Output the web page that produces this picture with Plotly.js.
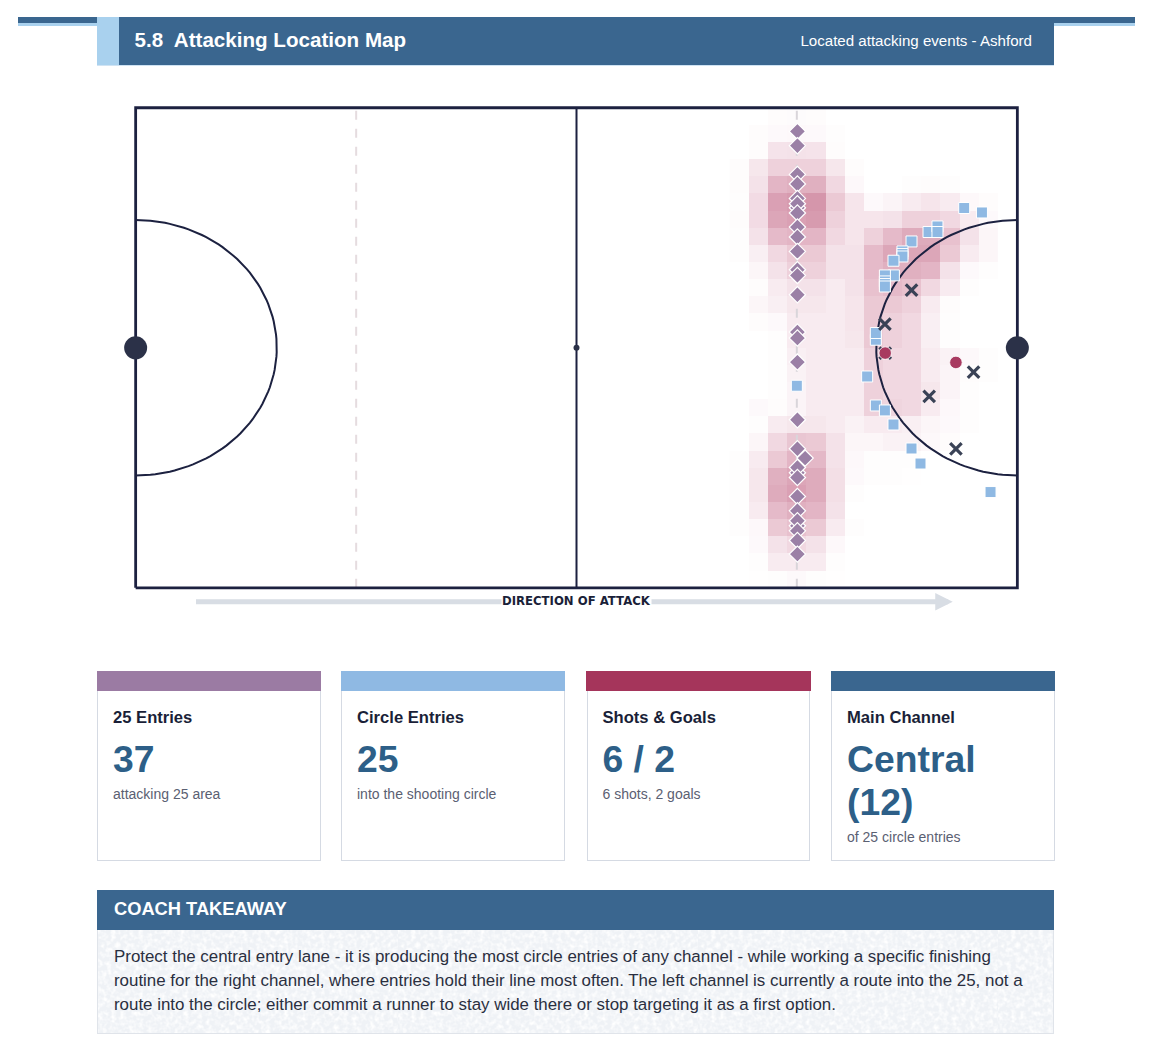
<!DOCTYPE html>
<html>
<head>
<meta charset="utf-8">
<script src="https://cdn.plot.ly/plotly-3.0.1.min.js"></script>
<style>
    html, body { margin: 0; padding: 0; background: #fff; }
    body { width: 1152px; height: 1052px; position: relative; overflow: hidden; font-family: "Liberation Sans", Arial, sans-serif; }
    .abs { position: absolute; }
    #pitch { position: absolute; left: 0; top: 66px; width: 1152px; height: 560px; }
    .head-title { position: absolute; left: 134.5px; top: 17px; height: 48px; line-height: 45px; color: #fff; font-size: 20.6px; font-weight: bold; white-space: pre; }
    .head-sub { position: absolute; right: 120px; top: 17px; height: 48px; line-height: 48px; color: #fff; font-size: 15.1px; }
    .card { position: absolute; top: 671px; width: 223.5px; height: 190px; box-sizing: border-box; border: 1.5px solid #d5dae3; border-top: none; }
    .card .bar { position: absolute; left: -1.5px; right: -1.5px; top: 0; height: 20px; }
    .card .label { position: absolute; left: 15px; top: 37px; font-size: 16.6px; font-weight: bold; color: #1a1f38; }
    .card .num { position: absolute; left: 15px; top: 67.25px; right: 4px; font-size: 37.3px; line-height: 42.5px; font-weight: bold; color: #2d5f88; }
    .card .sub { font-size: 14px; line-height: 20px; font-weight: normal; color: #5a6072; margin-top: 3.25px; }
    #take-head { position: absolute; left: 97px; top: 890px; width: 957px; height: 40px; background: #3a668f; color: #fff; font-weight: bold; font-size: 18.3px; line-height: 38px; text-indent: 17px; }
    #take-body { position: absolute; left: 97px; top: 930px; width: 957px; height: 104px; box-sizing: border-box; background-color: #eff2f6; border: 1.5px solid #e0e4ea; border-top: none; color: #2a2f40; font-size: 16.9px; line-height: 24px; padding: 15px 0 0 16px; white-space: nowrap; }
</style>
</head>
<body>
<div class="abs" style="left:18px;top:17px;width:79px;height:6px;background:#3a668f"></div>
<div class="abs" style="left:18px;top:23px;width:79px;height:3px;background:#a9d1ee"></div>
<div class="abs" style="left:1054px;top:17px;width:81px;height:6px;background:#3a668f"></div>
<div class="abs" style="left:1054px;top:23px;width:81px;height:3px;background:#a9d1ee"></div>
<div class="abs" style="left:97px;top:17px;width:22px;height:48px;background:#a9d1ee"></div>
<div class="abs" style="left:119px;top:17px;width:935px;height:48px;background:#3a668f"></div>
<div class="abs" style="left:97px;top:65px;width:957px;height:1px;background:#cfe3f3"></div>
<div class="head-title">5.8  Attacking Location Map</div>
<div class="head-sub">Located attacking events - Ashford</div>

<div id="pitch"></div>

<div id="cards"></div>

<div id="take-head">COACH TAKEAWAY</div>
<div id="take-body">Protect the central entry lane - it is producing the most circle entries of any channel - while working a specific finishing<br>routine for the right channel, where entries hold their line most often. The left channel is currently a route into the 25, not a<br>route into the circle; either commit a runner to stay wide there or stop targeting it as a first option.</div>

<script>
// pitch size in metres
const PITCH_LEN = 91.4;
const PITCH_WID = 55;
const CIRCLE_R = 14.63;
const LINE_25 = 22.86;

// density grid: 46 x 28 cells, columns 31..44 only, rows from the top touchline down
const HEAT_COLS = 46;
const HEAT_ROWS = 28;
const HEAT_FIRST_COL = 31;
const heatRows = [
    [0, 0, .15, .2, .15, 0, 0, 0, 0, 0, 0, 0, 0, 0],
    [0, .15, .25, .3, .25, .1, 0, 0, 0, 0, 0, 0, 0, 0],
    [0, .15, 1.3, 1.4, 1.3, .15, 0, 0, 0, 0, 0, 0, 0, 0],
    [.15, 1.1, 2.5, 2.5, 2.5, 1.1, .15, 0, 0, 0, 0, 0, 0, 0],
    [.15, 1.4, 4.5, 5, 5, 2, .3, 0, 0, .1, .15, .1, 0, 0],
    [.1, 1.8, 6.5, 7, 7.5, 3, 1.2, .25, .5, .9, 1.2, .9, .3, .15],
    [.15, 1.8, 6, 6.5, 7, 2.5, 1.2, 1.2, 1.4, 2.5, 2.5, 2, .9, .25],
    [.1, 1.4, 4, 4.5, 4.5, 2, 1.2, 2.5, 4, 5.5, 5.5, 3.5, 1.4, .4],
    [.1, .7, 2, 3, 3, 1.4, 1.4, 4, 6, 6, 6, 3, .9, .4],
    [0, .4, 1.4, 2.5, 2.5, 1.4, 1.4, 4, 5, 5, 4.5, 1.4, .25, .1],
    [0, .15, .9, 1.4, 1.4, .9, 1.4, 3.5, 4, 3.5, 2, .9, .1, 0],
    [0, .4, .7, 1.1, 1.1, .9, 1.2, 3, 3, 2.5, .9, .15, 0, 0],
    [0, .15, .25, .9, .9, .9, 1.2, 3, 2.5, 2, .7, .1, 0, 0],
    [0, 0, .1, .9, .9, .9, 1.1, 3, 2.5, 2, .7, .1, 0, 0],
    [0, 0, .1, .7, .9, .9, .9, 2.5, 2, 2, .9, .6, .3, .1],
    [0, 0, .1, .6, .9, .9, .9, 2.5, 2, 2, .9, .5, .15, .1],
    [0, 0, .1, .5, .9, .9, .9, 2.5, 2, 2, 1.1, .5, .1, 0],
    [0, .25, .15, .5, .9, .9, .9, 2.5, 2.2, 2, .9, .3, .1, 0],
    [0, .1, .9, 1.1, 1.1, .9, .6, .9, .9, .7, .4, .25, .1, 0],
    [0, .4, 2, 3.2, 3, 1.4, .4, .4, .6, .6, .3, .15, 0, 0],
    [.1, .9, 3, 4.5, 4.2, 1.4, .3, .1, .1, .1, 0, 0, 0, 0],
    [.1, 1.1, 5, 6, 5.5, 1.6, .25, .1, .1, .05, 0, 0, 0, 0],
    [.1, 1.1, 5.5, 6.5, 5.5, 1.6, .1, 0, 0, 0, 0, 0, 0, 0],
    [.1, .9, 4, 5, 4.5, 1.4, 0, 0, 0, 0, 0, 0, 0, 0],
    [.1, .3, 3, 3.5, 3, .9, .1, 0, 0, 0, 0, 0, 0, 0],
    [0, .25, 1.4, 2, 1.4, .3, 0, 0, 0, 0, 0, 0, 0, 0],
    [0, .1, .9, .9, .9, .1, 0, 0, 0, 0, 0, 0, 0, 0],
    [0, .05, .1, .25, .1, .05, 0, 0, 0, 0, 0, 0, 0, 0],
];

// events in metres from the bottom-left corner
const entries25X = [68.6, 68.6, 68.6, 68.6, 68.6, 68.6, 68.6, 68.6, 68.6, 68.6, 68.6, 68.6, 68.6, 68.6, 68.6, 68.6, 68.6, 68.6, 69.4, 68.6, 68.6, 68.6, 68.6, 68.6, 68.6, 68.6, 68.6, 68.6, 68.6, 68.6];
const entries25Y = [52.29, 50.65, 47.36, 46.26, 44.61, 43.54, 44, 42.94, 41.33, 40.19, 38.54, 36.44, 35.79, 33.57, 29.3, 28.61, 25.86, 19.25, 14.86, 15.93, 13.18, 13.78, 12.64, 10.46, 8.82, 7.1, 7.68, 6.53, 5.42, 3.86];
const circleX = [85.89, 87.73, 82.19, 83.12, 83.12, 80.43, 79.49, 79.49, 79.49, 78.56, 78.6, 77.67, 77.67, 77.67, 77.67, 76.73, 76.73, 75.83, 68.54, 76.73, 77.67, 78.56, 80.43, 81.36, 88.62];
const circleY = [43.51, 43, 40.76, 41.4, 40.76, 39.68, 38.54, 38.25, 37.96, 37.47, 35.79, 35.79, 35.1, 34.8, 34.52, 28.42, 29.19, 24.21, 23.15, 20.89, 20.32, 18.71, 15.96, 14.24, 10.97];
const shotX = [80.43, 77.67, 86.86, 82.26, 85.03, 77.7];
const shotY = [34.11, 30.22, 24.72, 21.92, 15.93, 26.89];
const goalX = [77.7, 85.03];
const goalY = [26.89, 25.82];

const cardTitles = ['25 Entries', 'Circle Entries', 'Shots & Goals', 'Main Channel'];
const cardValues = ['37', '25', '6 / 2', 'Central (12)'];
const cardNotes = ['attacking 25 area', 'into the shooting circle', '6 shots, 2 goals', 'of 25 circle entries'];
const cardColors = ['#9b7ba3', '#8fb9e3', '#a5355b', '#3a668f'];
const cardLefts = [97, 341, 586.5, 831];

const INK = '#1c2140';
const MID_Y = PITCH_WID / 2;

const arcPoints = (cx, dir) => {
    const xs = [];
    const ys = [];
    for (let a = -90; a <= 90; a += 2) {
        const t = a * Math.PI / 180;
        xs.push(cx + dir * CIRCLE_R * Math.cos(t));
        ys.push(MID_Y + CIRCLE_R * Math.sin(t));
    }
    return { x: xs, y: ys };
};

const lineTrace = (x, y, width, color, dash) => ({
    type: 'scatter',
    mode: 'lines',
    x,
    y,
    hoverinfo: 'skip',
    line: { color, width, dash: dash || 'solid', shape: 'linear' },
});

const markerTrace = (x, y, marker) => ({
    type: 'scatter',
    mode: 'markers',
    x,
    y,
    hoverinfo: 'skip',
    cliponaxis: false,
    marker,
});

const heat = {
    type: 'heatmap',
    z: heatRows.map(row => row.map(v => (v === 0 ? null : v))),
    x0: (HEAT_FIRST_COL + 0.5) * PITCH_LEN / HEAT_COLS,
    dx: PITCH_LEN / HEAT_COLS,
    y0: PITCH_WID - 0.5 * PITCH_WID / HEAT_ROWS,
    dy: -PITCH_WID / HEAT_ROWS,
    zmin: 0,
    zmax: 7.5,
    showscale: false,
    hoverinfo: 'skip',
    colorscale: [[0, '#ffffff'], [0.15, '#f6e6ec'], [0.5, '#e6bdcb'], [1, '#d596ab']],
};

const leftArc = arcPoints(0, 1);
const rightArc = arcPoints(PITCH_LEN, -1);

const traces = [
    heat,
    lineTrace([LINE_25, LINE_25], [0, PITCH_WID], 2, '#e5dcdf', 'dash'),
    lineTrace([PITCH_LEN - LINE_25, PITCH_LEN - LINE_25], [0, PITCH_WID], 2, '#d9d5da', 'dash'),
    lineTrace([PITCH_LEN / 2, PITCH_LEN / 2], [0, PITCH_WID], 2, INK),
    lineTrace(leftArc.x, leftArc.y, 2, INK),
    lineTrace(rightArc.x, rightArc.y, 2, INK),
    lineTrace([0, PITCH_LEN, PITCH_LEN, 0, 0], [0, 0, PITCH_WID, PITCH_WID, 0], 2.8, INK),
    markerTrace([0, PITCH_LEN], [MID_Y, MID_Y], { color: '#2b3148', size: 23 }),
    markerTrace([PITCH_LEN / 2], [MID_Y], { color: '#2b3148', size: 6 }),
    markerTrace(entries25X, entries25Y, { symbol: 'diamond', size: 12.5, color: '#9b80a6', line: { color: '#ffffff', width: 1.2 } }),
    markerTrace(circleX, circleY, { symbol: 'square', size: 11, color: '#8fb9e3', line: { color: '#ffffff', width: 1 } }),
    markerTrace(shotX, shotY, { symbol: 'x-thin', size: 11.5, color: '#3a4256', line: { color: '#3a4256', width: 3.2 } }),
    markerTrace(goalX, goalY, { symbol: 'circle', size: 12.5, color: '#a83a60', line: { color: '#ffffff', width: 0.8 } }),
];

const hiddenAxis = range => ({
    range,
    showgrid: false,
    zeroline: false,
    showticklabels: false,
    ticks: '',
    fixedrange: true,
    showline: false,
});

// axes run a little past the pitch so the border is not clipped and the arrow sits in range
const layout = {
    width: 1152,
    height: 560,
    margin: { l: 126.36, r: 125.36, t: 33.27, b: 11.82, pad: 0 },
    paper_bgcolor: 'rgba(0,0,0,0)',
    plot_bgcolor: 'rgba(0,0,0,0)',
    showlegend: false,
    xaxis: hiddenAxis([-1, PITCH_LEN + 1]),
    yaxis: hiddenAxis([-3, PITCH_WID + 1]),
    annotations: [
        {
            x: 84.7, y: -1.6, ax: 6.1, ay: -1.6,
            xref: 'x', yref: 'y', axref: 'x', ayref: 'y',
            text: '', showarrow: true,
            arrowhead: 2, arrowsize: 0.7, arrowwidth: 5, arrowcolor: '#d8dde4',
        },
        {
            x: PITCH_LEN / 2, y: -1.5, xref: 'x', yref: 'y',
            text: 'DIRECTION OF ATTACK', showarrow: false,
            bgcolor: '#ffffff', borderpad: 0,
            font: { family: '"DejaVu Sans", sans-serif', size: 11.7, color: '#1a1f38', weight: 600 },
        },
    ],
};

Plotly.newPlot('pitch', traces, layout, { staticPlot: true, displayModeBar: false });

const cardsEl = document.getElementById('cards');
cardTitles.forEach((title, i) => {
    const card = document.createElement('div');
    card.className = 'card';
    card.style.left = cardLefts[i] + 'px';
    const esc = title.replace('&', '&amp;');
    card.innerHTML = `<div class="bar" style="background:${cardColors[i]}"></div>`
        + `<div class="label">${esc}</div>`
        + `<div class="num">${cardValues[i]}<div class="sub">${cardNotes[i]}</div></div>`;
    cardsEl.appendChild(card);
});

// mottled paper look behind the takeaway text
const noise = "<svg xmlns='http://www.w3.org/2000/svg' width='300' height='120'>"
    + "<filter id='n'><feTurbulence type='fractalNoise' baseFrequency='0.22' numOctaves='2' seed='4'/>"
    + "<feColorMatrix values='0 0 0 0 1  0 0 0 0 1  0 0 0 0 1  2.4 0 0 0 -0.95'/></filter>"
    + "<rect width='300' height='120' filter='url(#n)'/></svg>";
document.getElementById('take-body').style.backgroundImage = `url("data:image/svg+xml,${encodeURIComponent(noise)}")`;
</script>
</body>
</html>
